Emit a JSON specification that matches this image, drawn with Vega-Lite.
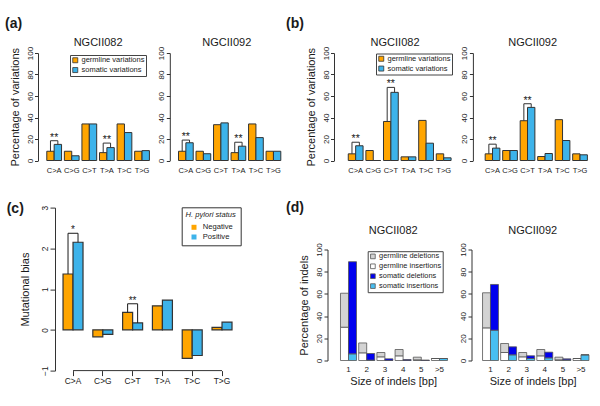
{
  "$schema": "https://vega.github.io/schema/vega-lite/v6.json",
  "padding": {"left": 5, "top": 17, "right": 0, "bottom": 0},
  "background": "white",
  "config": {
    "font": "Liberation Sans",
    "view": {"stroke": null},
    "axis": {"grid": false, "labelFont": "Liberation Sans", "titleFont": "Liberation Sans", "titleFontWeight": "normal", "labelColor": "#1a1a1a", "titleColor": "#1a1a1a", "domainColor": "#333333", "tickColor": "#333333", "labelFlush": false, "labelOverlap": false},
    "legend": {"labelFont": "Liberation Sans", "titleFont": "Liberation Sans", "labelColor": "#1a1a1a", "titleColor": "#1a1a1a"},
    "title": {"font": "Liberation Sans", "fontWeight": "normal", "fontSize": 11, "color": "#1a1a1a", "anchor": "middle", "frame": "group"}
  },
  "datasets": {
    "variations": [
      {"panel": "a", "sample": "NGCII082", "mut": "C>A", "origin": "germline variations", "pct": 8.6},
      {"panel": "a", "sample": "NGCII082", "mut": "C>A", "origin": "somatic variations", "pct": 15},
      {"panel": "a", "sample": "NGCII082", "mut": "C>G", "origin": "germline variations", "pct": 8.6},
      {"panel": "a", "sample": "NGCII082", "mut": "C>G", "origin": "somatic variations", "pct": 4.4},
      {"panel": "a", "sample": "NGCII082", "mut": "C>T", "origin": "germline variations", "pct": 34},
      {"panel": "a", "sample": "NGCII082", "mut": "C>T", "origin": "somatic variations", "pct": 34},
      {"panel": "a", "sample": "NGCII082", "mut": "T>A", "origin": "germline variations", "pct": 7.3},
      {"panel": "a", "sample": "NGCII082", "mut": "T>A", "origin": "somatic variations", "pct": 12},
      {"panel": "a", "sample": "NGCII082", "mut": "T>C", "origin": "germline variations", "pct": 34},
      {"panel": "a", "sample": "NGCII082", "mut": "T>C", "origin": "somatic variations", "pct": 26},
      {"panel": "a", "sample": "NGCII082", "mut": "T>G", "origin": "germline variations", "pct": 8.6},
      {"panel": "a", "sample": "NGCII082", "mut": "T>G", "origin": "somatic variations", "pct": 9.2},
      {"panel": "a", "sample": "NGCII092", "mut": "C>A", "origin": "germline variations", "pct": 8.6},
      {"panel": "a", "sample": "NGCII092", "mut": "C>A", "origin": "somatic variations", "pct": 16.5},
      {"panel": "a", "sample": "NGCII092", "mut": "C>G", "origin": "germline variations", "pct": 8.6},
      {"panel": "a", "sample": "NGCII092", "mut": "C>G", "origin": "somatic variations", "pct": 6.3},
      {"panel": "a", "sample": "NGCII092", "mut": "C>T", "origin": "germline variations", "pct": 33.3},
      {"panel": "a", "sample": "NGCII092", "mut": "C>T", "origin": "somatic variations", "pct": 35},
      {"panel": "a", "sample": "NGCII092", "mut": "T>A", "origin": "germline variations", "pct": 7.3},
      {"panel": "a", "sample": "NGCII092", "mut": "T>A", "origin": "somatic variations", "pct": 13.3},
      {"panel": "a", "sample": "NGCII092", "mut": "T>C", "origin": "germline variations", "pct": 34},
      {"panel": "a", "sample": "NGCII092", "mut": "T>C", "origin": "somatic variations", "pct": 21.3},
      {"panel": "a", "sample": "NGCII092", "mut": "T>G", "origin": "germline variations", "pct": 8.6},
      {"panel": "a", "sample": "NGCII092", "mut": "T>G", "origin": "somatic variations", "pct": 8.6},
      {"panel": "b", "sample": "NGCII082", "mut": "C>A", "origin": "germline variations", "pct": 6.2},
      {"panel": "b", "sample": "NGCII082", "mut": "C>A", "origin": "somatic variations", "pct": 13.7},
      {"panel": "b", "sample": "NGCII082", "mut": "C>G", "origin": "germline variations", "pct": 9.3},
      {"panel": "b", "sample": "NGCII082", "mut": "C>G", "origin": "somatic variations", "pct": 0},
      {"panel": "b", "sample": "NGCII082", "mut": "C>T", "origin": "germline variations", "pct": 36.3},
      {"panel": "b", "sample": "NGCII082", "mut": "C>T", "origin": "somatic variations", "pct": 63.4},
      {"panel": "b", "sample": "NGCII082", "mut": "T>A", "origin": "germline variations", "pct": 3.4},
      {"panel": "b", "sample": "NGCII082", "mut": "T>A", "origin": "somatic variations", "pct": 3.4},
      {"panel": "b", "sample": "NGCII082", "mut": "T>C", "origin": "germline variations", "pct": 37.3},
      {"panel": "b", "sample": "NGCII082", "mut": "T>C", "origin": "somatic variations", "pct": 16.1},
      {"panel": "b", "sample": "NGCII082", "mut": "T>G", "origin": "germline variations", "pct": 6.2},
      {"panel": "b", "sample": "NGCII082", "mut": "T>G", "origin": "somatic variations", "pct": 2.5},
      {"panel": "b", "sample": "NGCII092", "mut": "C>A", "origin": "germline variations", "pct": 6.2},
      {"panel": "b", "sample": "NGCII092", "mut": "C>A", "origin": "somatic variations", "pct": 11.5},
      {"panel": "b", "sample": "NGCII092", "mut": "C>G", "origin": "germline variations", "pct": 9.3},
      {"panel": "b", "sample": "NGCII092", "mut": "C>G", "origin": "somatic variations", "pct": 9.3},
      {"panel": "b", "sample": "NGCII092", "mut": "C>T", "origin": "germline variations", "pct": 37},
      {"panel": "b", "sample": "NGCII092", "mut": "C>T", "origin": "somatic variations", "pct": 49.4},
      {"panel": "b", "sample": "NGCII092", "mut": "T>A", "origin": "germline variations", "pct": 3.7},
      {"panel": "b", "sample": "NGCII092", "mut": "T>A", "origin": "somatic variations", "pct": 6.5},
      {"panel": "b", "sample": "NGCII092", "mut": "T>C", "origin": "germline variations", "pct": 38},
      {"panel": "b", "sample": "NGCII092", "mut": "T>C", "origin": "somatic variations", "pct": 18.6},
      {"panel": "b", "sample": "NGCII092", "mut": "T>G", "origin": "germline variations", "pct": 6.2},
      {"panel": "b", "sample": "NGCII092", "mut": "T>G", "origin": "somatic variations", "pct": 5.3}
    ],
    "brackets": [
      {"panel": "a", "sample": "NGCII082", "mut": "C>A", "origin": "germline variations", "k": 1, "pct": 8.6},
      {"panel": "a", "sample": "NGCII082", "mut": "C>A", "origin": "germline variations", "k": 2, "pct": 18.4},
      {"panel": "a", "sample": "NGCII082", "mut": "C>A", "origin": "somatic variations", "k": 3, "pct": 18.4},
      {"panel": "a", "sample": "NGCII082", "mut": "C>A", "origin": "somatic variations", "k": 4, "pct": 15},
      {"panel": "a", "sample": "NGCII082", "mut": "T>A", "origin": "germline variations", "k": 1, "pct": 7.3},
      {"panel": "a", "sample": "NGCII082", "mut": "T>A", "origin": "germline variations", "k": 2, "pct": 16.2},
      {"panel": "a", "sample": "NGCII082", "mut": "T>A", "origin": "somatic variations", "k": 3, "pct": 16.2},
      {"panel": "a", "sample": "NGCII082", "mut": "T>A", "origin": "somatic variations", "k": 4, "pct": 12},
      {"panel": "a", "sample": "NGCII092", "mut": "C>A", "origin": "germline variations", "k": 1, "pct": 8.6},
      {"panel": "a", "sample": "NGCII092", "mut": "C>A", "origin": "germline variations", "k": 2, "pct": 19},
      {"panel": "a", "sample": "NGCII092", "mut": "C>A", "origin": "somatic variations", "k": 3, "pct": 19},
      {"panel": "a", "sample": "NGCII092", "mut": "C>A", "origin": "somatic variations", "k": 4, "pct": 16.5},
      {"panel": "a", "sample": "NGCII092", "mut": "T>A", "origin": "germline variations", "k": 1, "pct": 7.3},
      {"panel": "a", "sample": "NGCII092", "mut": "T>A", "origin": "germline variations", "k": 2, "pct": 17},
      {"panel": "a", "sample": "NGCII092", "mut": "T>A", "origin": "somatic variations", "k": 3, "pct": 17},
      {"panel": "a", "sample": "NGCII092", "mut": "T>A", "origin": "somatic variations", "k": 4, "pct": 13.3},
      {"panel": "b", "sample": "NGCII082", "mut": "C>A", "origin": "germline variations", "k": 1, "pct": 6.2},
      {"panel": "b", "sample": "NGCII082", "mut": "C>A", "origin": "germline variations", "k": 2, "pct": 17},
      {"panel": "b", "sample": "NGCII082", "mut": "C>A", "origin": "somatic variations", "k": 3, "pct": 17},
      {"panel": "b", "sample": "NGCII082", "mut": "C>A", "origin": "somatic variations", "k": 4, "pct": 13.7},
      {"panel": "b", "sample": "NGCII082", "mut": "C>T", "origin": "germline variations", "k": 1, "pct": 36.3},
      {"panel": "b", "sample": "NGCII082", "mut": "C>T", "origin": "germline variations", "k": 2, "pct": 68},
      {"panel": "b", "sample": "NGCII082", "mut": "C>T", "origin": "somatic variations", "k": 3, "pct": 68},
      {"panel": "b", "sample": "NGCII082", "mut": "C>T", "origin": "somatic variations", "k": 4, "pct": 63.4},
      {"panel": "b", "sample": "NGCII092", "mut": "C>A", "origin": "germline variations", "k": 1, "pct": 6.2},
      {"panel": "b", "sample": "NGCII092", "mut": "C>A", "origin": "germline variations", "k": 2, "pct": 15.2},
      {"panel": "b", "sample": "NGCII092", "mut": "C>A", "origin": "somatic variations", "k": 3, "pct": 15.2},
      {"panel": "b", "sample": "NGCII092", "mut": "C>A", "origin": "somatic variations", "k": 4, "pct": 11.5},
      {"panel": "b", "sample": "NGCII092", "mut": "C>T", "origin": "germline variations", "k": 1, "pct": 37},
      {"panel": "b", "sample": "NGCII092", "mut": "C>T", "origin": "germline variations", "k": 2, "pct": 52.8},
      {"panel": "b", "sample": "NGCII092", "mut": "C>T", "origin": "somatic variations", "k": 3, "pct": 52.8},
      {"panel": "b", "sample": "NGCII092", "mut": "C>T", "origin": "somatic variations", "k": 4, "pct": 49.4}
    ],
    "sig": [
      {"panel": "a", "sample": "NGCII082", "mut": "C>A", "pct": 18.4, "label": "**"},
      {"panel": "a", "sample": "NGCII082", "mut": "T>A", "pct": 16.2, "label": "**"},
      {"panel": "a", "sample": "NGCII092", "mut": "C>A", "pct": 19, "label": "**"},
      {"panel": "a", "sample": "NGCII092", "mut": "T>A", "pct": 17, "label": "**"},
      {"panel": "b", "sample": "NGCII082", "mut": "C>A", "pct": 17, "label": "**"},
      {"panel": "b", "sample": "NGCII082", "mut": "C>T", "pct": 68, "label": "**"},
      {"panel": "b", "sample": "NGCII092", "mut": "C>A", "pct": 15.2, "label": "**"},
      {"panel": "b", "sample": "NGCII092", "mut": "C>T", "pct": 52.8, "label": "**"}
    ],
    "bias": [
      {"mut": "C>A", "status": "Negative", "bias": 1.37},
      {"mut": "C>A", "status": "Positive", "bias": 2.15},
      {"mut": "C>G", "status": "Negative", "bias": -0.17},
      {"mut": "C>G", "status": "Positive", "bias": -0.11},
      {"mut": "C>T", "status": "Negative", "bias": 0.43},
      {"mut": "C>T", "status": "Positive", "bias": 0.17},
      {"mut": "T>A", "status": "Negative", "bias": 0.59},
      {"mut": "T>A", "status": "Positive", "bias": 0.73},
      {"mut": "T>C", "status": "Negative", "bias": -0.7},
      {"mut": "T>C", "status": "Positive", "bias": -0.63},
      {"mut": "T>G", "status": "Negative", "bias": 0.06},
      {"mut": "T>G", "status": "Positive", "bias": 0.19}
    ],
    "biasBrackets": [
      {"mut": "C>A", "status": "Negative", "k": 1, "bias": 1.37},
      {"mut": "C>A", "status": "Negative", "k": 2, "bias": 2.37},
      {"mut": "C>A", "status": "Positive", "k": 3, "bias": 2.37},
      {"mut": "C>A", "status": "Positive", "k": 4, "bias": 2.15},
      {"mut": "C>T", "status": "Negative", "k": 1, "bias": 0.43},
      {"mut": "C>T", "status": "Negative", "k": 2, "bias": 0.64},
      {"mut": "C>T", "status": "Positive", "k": 3, "bias": 0.64},
      {"mut": "C>T", "status": "Positive", "k": 4, "bias": 0.17}
    ],
    "biasSig": [
      {"mut": "C>A", "bias": 2.37, "label": "*"},
      {"mut": "C>T", "bias": 0.64, "label": "**"}
    ],
    "indels": [
      {"sample": "NGCII082", "size": "1", "origin": "germline", "kind": "insertions", "type": "germline insertions", "pct": 30},
      {"sample": "NGCII082", "size": "1", "origin": "germline", "kind": "deletions", "type": "germline deletions", "pct": 30.6},
      {"sample": "NGCII082", "size": "1", "origin": "somatic", "kind": "insertions", "type": "somatic insertions", "pct": 6},
      {"sample": "NGCII082", "size": "1", "origin": "somatic", "kind": "deletions", "type": "somatic deletions", "pct": 83},
      {"sample": "NGCII082", "size": "2", "origin": "germline", "kind": "insertions", "type": "germline insertions", "pct": 6.9},
      {"sample": "NGCII082", "size": "2", "origin": "germline", "kind": "deletions", "type": "germline deletions", "pct": 8.9},
      {"sample": "NGCII082", "size": "2", "origin": "somatic", "kind": "insertions", "type": "somatic insertions", "pct": 0.4},
      {"sample": "NGCII082", "size": "2", "origin": "somatic", "kind": "deletions", "type": "somatic deletions", "pct": 5.9},
      {"sample": "NGCII082", "size": "3", "origin": "germline", "kind": "insertions", "type": "germline insertions", "pct": 3.3},
      {"sample": "NGCII082", "size": "3", "origin": "germline", "kind": "deletions", "type": "germline deletions", "pct": 3.9},
      {"sample": "NGCII082", "size": "3", "origin": "somatic", "kind": "insertions", "type": "somatic insertions", "pct": 0},
      {"sample": "NGCII082", "size": "3", "origin": "somatic", "kind": "deletions", "type": "somatic deletions", "pct": 1.5},
      {"sample": "NGCII082", "size": "4", "origin": "germline", "kind": "insertions", "type": "germline insertions", "pct": 4.2},
      {"sample": "NGCII082", "size": "4", "origin": "germline", "kind": "deletions", "type": "germline deletions", "pct": 5.7},
      {"sample": "NGCII082", "size": "4", "origin": "somatic", "kind": "insertions", "type": "somatic insertions", "pct": 0},
      {"sample": "NGCII082", "size": "4", "origin": "somatic", "kind": "deletions", "type": "somatic deletions", "pct": 0.9},
      {"sample": "NGCII082", "size": "5", "origin": "germline", "kind": "insertions", "type": "germline insertions", "pct": 0.6},
      {"sample": "NGCII082", "size": "5", "origin": "germline", "kind": "deletions", "type": "germline deletions", "pct": 2.4},
      {"sample": "NGCII082", "size": "5", "origin": "somatic", "kind": "insertions", "type": "somatic insertions", "pct": 0},
      {"sample": "NGCII082", "size": "5", "origin": "somatic", "kind": "deletions", "type": "somatic deletions", "pct": 0.4},
      {"sample": "NGCII082", "size": ">5", "origin": "germline", "kind": "insertions", "type": "germline insertions", "pct": 1.8},
      {"sample": "NGCII082", "size": ">5", "origin": "germline", "kind": "deletions", "type": "germline deletions", "pct": 0},
      {"sample": "NGCII082", "size": ">5", "origin": "somatic", "kind": "insertions", "type": "somatic insertions", "pct": 1.8},
      {"sample": "NGCII082", "size": ">5", "origin": "somatic", "kind": "deletions", "type": "somatic deletions", "pct": 0},
      {"sample": "NGCII092", "size": "1", "origin": "germline", "kind": "insertions", "type": "germline insertions", "pct": 29.4},
      {"sample": "NGCII092", "size": "1", "origin": "germline", "kind": "deletions", "type": "germline deletions", "pct": 31.6},
      {"sample": "NGCII092", "size": "1", "origin": "somatic", "kind": "insertions", "type": "somatic insertions", "pct": 27.3},
      {"sample": "NGCII092", "size": "1", "origin": "somatic", "kind": "deletions", "type": "somatic deletions", "pct": 41.2},
      {"sample": "NGCII092", "size": "2", "origin": "germline", "kind": "insertions", "type": "germline insertions", "pct": 7.2},
      {"sample": "NGCII092", "size": "2", "origin": "germline", "kind": "deletions", "type": "germline deletions", "pct": 8.1},
      {"sample": "NGCII092", "size": "2", "origin": "somatic", "kind": "insertions", "type": "somatic insertions", "pct": 5.1},
      {"sample": "NGCII092", "size": "2", "origin": "somatic", "kind": "deletions", "type": "somatic deletions", "pct": 7.2},
      {"sample": "NGCII092", "size": "3", "origin": "germline", "kind": "insertions", "type": "germline insertions", "pct": 3.3},
      {"sample": "NGCII092", "size": "3", "origin": "germline", "kind": "deletions", "type": "germline deletions", "pct": 3.9},
      {"sample": "NGCII092", "size": "3", "origin": "somatic", "kind": "insertions", "type": "somatic insertions", "pct": 1.8},
      {"sample": "NGCII092", "size": "3", "origin": "somatic", "kind": "deletions", "type": "somatic deletions", "pct": 2.4},
      {"sample": "NGCII092", "size": "4", "origin": "germline", "kind": "insertions", "type": "germline insertions", "pct": 4.2},
      {"sample": "NGCII092", "size": "4", "origin": "germline", "kind": "deletions", "type": "germline deletions", "pct": 5.7},
      {"sample": "NGCII092", "size": "4", "origin": "somatic", "kind": "insertions", "type": "somatic insertions", "pct": 2.4},
      {"sample": "NGCII092", "size": "4", "origin": "somatic", "kind": "deletions", "type": "somatic deletions", "pct": 5.1},
      {"sample": "NGCII092", "size": "5", "origin": "germline", "kind": "insertions", "type": "germline insertions", "pct": 0.6},
      {"sample": "NGCII092", "size": "5", "origin": "germline", "kind": "deletions", "type": "germline deletions", "pct": 2.4},
      {"sample": "NGCII092", "size": "5", "origin": "somatic", "kind": "insertions", "type": "somatic insertions", "pct": 0.6},
      {"sample": "NGCII092", "size": "5", "origin": "somatic", "kind": "deletions", "type": "somatic deletions", "pct": 0.9},
      {"sample": "NGCII092", "size": ">5", "origin": "germline", "kind": "insertions", "type": "germline insertions", "pct": 1.8},
      {"sample": "NGCII092", "size": ">5", "origin": "germline", "kind": "deletions", "type": "germline deletions", "pct": 0},
      {"sample": "NGCII092", "size": ">5", "origin": "somatic", "kind": "insertions", "type": "somatic insertions", "pct": 5.1},
      {"sample": "NGCII092", "size": ">5", "origin": "somatic", "kind": "deletions", "type": "somatic deletions", "pct": 0}
    ]
  },
  "spacing": 2,
  "resolve": {"scale": {"x": "independent", "y": "independent", "color": "independent", "xOffset": "independent"}, "axis": {"x": "independent", "y": "independent"}, "legend": {"color": "independent"}},
  "hconcat": [
    {
      "spacing": 27.6,
      "resolve": {"scale": {"x": "independent", "y": "independent", "color": "independent", "xOffset": "independent"}, "axis": {"x": "independent", "y": "independent"}, "legend": {"color": "independent"}},
      "vconcat": [
        {
          "title": {"text": "(a)", "anchor": "start", "frame": "group", "dx": -33, "fontSize": 14, "fontWeight": "bold", "offset": 6},
          "bounds": "flush",
          "spacing": 10.8,
          "resolve": {"scale": {"x": "independent", "y": "independent", "color": "independent", "xOffset": "independent"}, "axis": {"x": "independent", "y": "independent"}, "legend": {"color": "independent"}},
          "hconcat": [
            {
              "width": 120.2, "height": 107.5,
              "title": {"text": "NGCII082", "offset": -2},
              "encoding": {
                "x": {"field": "mut", "type": "nominal", "title": null, "scale": {"paddingInner": 0.16, "paddingOuter": 0.5, "align": 0.5}, "axis": {"domain": false, "ticks": false, "tickSize": 0, "labelAngle": 0, "labelFontSize": 7.5, "labelPadding": 6, "labelOverlap": false}},
                "y": {"field": "pct", "type": "quantitative", "scale": {"domain": [0, 100], "nice": false}, "axis": {"values": [0, 20, 40, 60, 80, 100], "labelOverlap": false, "labelFlush": false, "title": "Percentage of variations", "titleFontSize": 11, "titlePadding": 6, "labelAngle": -90, "labelAlign": "center", "labelBaseline": "bottom", "labelFontSize": 8, "labelPadding": 0.5, "tickSize": 3.5}}
              },
              "layer": [
                {
                  "data": {"name": "variations"},
                  "transform": [{"filter": "datum.panel == 'a' && datum.sample == 'NGCII082'"}],
                  "mark": {"type": "bar", "stroke": "#333333", "strokeWidth": 1},
                  "encoding": {
                    "xOffset": {"field": "origin", "type": "nominal", "scale": {"paddingInner": 0, "paddingOuter": 0}},
                    "color": {"field": "origin", "type": "nominal", "scale": {"domain": ["germline variations", "somatic variations"], "range": ["#FFA500", "#3DB3EA"]}, "legend": {"orient": "none", "legendX": 32, "legendY": 2, "title": null, "symbolType": "square", "symbolSize": 25, "symbolStrokeColor": "#333333", "symbolStrokeWidth": 0.8, "labelFontSize": 7.5, "labelOffset": 2.5, "labelLimit": 200, "padding": 1.5, "rowPadding": 0.8, "strokeColor": "#444444", "fillColor": "white"}}
                  }
                },
                {
                  "data": {"name": "brackets"},
                  "transform": [{"filter": "datum.panel == 'a' && datum.sample == 'NGCII082'"}],
                  "mark": {"type": "line", "color": "#333333", "strokeWidth": 1},
                  "encoding": {
                    "xOffset": {"field": "origin", "type": "nominal"},
                    "detail": {"field": "mut", "type": "nominal"},
                    "order": {"field": "k", "type": "quantitative"}
                  }
                },
                {
                  "data": {"name": "sig"},
                  "transform": [{"filter": "datum.panel == 'a' && datum.sample == 'NGCII082'"}],
                  "mark": {"type": "text", "fontSize": 10.5, "baseline": "alphabetic", "color": "#1a1a1a"},
                  "encoding": {
                    "text": {"field": "label", "type": "nominal"}
                  }
                }
              ]
            },
            {
              "width": 114, "height": 107.5,
              "title": {"text": "NGCII092", "offset": -2},
              "encoding": {
                "x": {"field": "mut", "type": "nominal", "title": null, "scale": {"paddingInner": 0.16, "paddingOuter": 0.334, "align": 0.744}, "axis": {"domain": false, "ticks": false, "tickSize": 0, "labelAngle": 0, "labelFontSize": 7.5, "labelPadding": 6, "labelOverlap": false}},
                "y": {"field": "pct", "type": "quantitative", "scale": {"domain": [0, 100], "nice": false}, "axis": {"values": [0, 20, 40, 60, 80, 100], "labelOverlap": false, "labelFlush": false, "title": null, "labelAngle": -90, "labelAlign": "center", "labelBaseline": "bottom", "labelFontSize": 8, "labelPadding": 0.5, "tickSize": 3.5}}
              },
              "layer": [
                {
                  "data": {"name": "variations"},
                  "transform": [{"filter": "datum.panel == 'a' && datum.sample == 'NGCII092'"}],
                  "mark": {"type": "bar", "stroke": "#333333", "strokeWidth": 1},
                  "encoding": {
                    "xOffset": {"field": "origin", "type": "nominal", "scale": {"paddingInner": 0, "paddingOuter": 0}},
                    "color": {"field": "origin", "type": "nominal", "scale": {"domain": ["germline variations", "somatic variations"], "range": ["#FFA500", "#3DB3EA"]}, "legend": null}
                  }
                },
                {
                  "data": {"name": "brackets"},
                  "transform": [{"filter": "datum.panel == 'a' && datum.sample == 'NGCII092'"}],
                  "mark": {"type": "line", "color": "#333333", "strokeWidth": 1},
                  "encoding": {
                    "xOffset": {"field": "origin", "type": "nominal"},
                    "detail": {"field": "mut", "type": "nominal"},
                    "order": {"field": "k", "type": "quantitative"}
                  }
                },
                {
                  "data": {"name": "sig"},
                  "transform": [{"filter": "datum.panel == 'a' && datum.sample == 'NGCII092'"}],
                  "mark": {"type": "text", "fontSize": 10.5, "baseline": "alphabetic", "color": "#1a1a1a"},
                  "encoding": {
                    "text": {"field": "label", "type": "nominal"}
                  }
                }
              ]
            }
          ]
        },
        {
          "width": 202, "height": 163,
          "title": {"text": "(c)", "anchor": "start", "frame": "group", "dx": -31.3, "dy": 11, "fontSize": 14, "fontWeight": "bold", "offset": 0},
          "encoding": {
            "x": {"field": "mut", "type": "nominal", "title": null, "scale": {"paddingInner": 0.329, "paddingOuter": 0.554, "align": 0.758}, "axis": {"domain": false, "ticks": true, "tickSize": 5, "labelAngle": 0, "labelFontSize": 8.4, "labelPadding": 1, "labelOverlap": false}},
            "y": {"field": "bias", "type": "quantitative", "scale": {"domain": [-1, 3], "nice": false}, "axis": {"values": [-1, 0, 1, 2, 3], "labelOverlap": false, "labelFlush": false, "offset": -17, "title": "Mutational bias", "titleFontSize": 11, "titlePadding": 10, "labelAngle": -90, "labelAlign": "center", "labelBaseline": "bottom", "labelFontSize": 8.4, "labelPadding": 0.5, "tickSize": 5}}
          },
          "layer": [
            {
              "data": {"name": "bias"},
              "mark": {"type": "bar", "stroke": "#333333", "strokeWidth": 1.2},
              "encoding": {
                "xOffset": {"field": "status", "type": "nominal", "scale": {"paddingInner": 0, "paddingOuter": 0}},
                "color": {"field": "status", "type": "nominal", "scale": {"domain": ["Negative", "Positive"], "range": ["#FFA500", "#3DB3EA"]}, "legend": {"orient": "none", "legendX": 143.7, "legendY": -0.3, "title": "H. pylori status", "titleFontStyle": "italic", "titleFontWeight": "normal", "titleFontSize": 7.6, "titleAnchor": "middle", "titlePadding": 4.6, "symbolType": "square", "symbolSize": 25, "symbolStrokeWidth": 0, "symbolOffset": 2.5, "labelFontSize": 7.6, "labelOffset": 5, "padding": 4, "rowPadding": 0.7, "strokeColor": "#333333", "fillColor": "white"}}
              }
            },
            {
              "data": {"name": "biasBrackets"},
              "mark": {"type": "line", "color": "#1a1a1a", "strokeWidth": 1},
              "encoding": {
                "xOffset": {"field": "status", "type": "nominal"},
                "detail": {"field": "mut", "type": "nominal"},
                "order": {"field": "k", "type": "quantitative"}
              }
            },
            {
              "data": {"name": "biasSig"},
              "mark": {"type": "text", "fontSize": 10, "baseline": "alphabetic", "color": "#1a1a1a"},
              "encoding": {
                "text": {"field": "label", "type": "nominal"}
              }
            },
            {
              "data": {"name": "bias"},
              "transform": [{"filter": "datum.mut == 'C>A' && datum.status == 'Negative'"}],
              "mark": {"type": "rule", "color": "#333333", "strokeWidth": 1},
              "encoding": {
                "x": {"datum": "C>A", "axis": {"domain": false, "ticks": true, "tickSize": 5, "labelAngle": 0, "labelFontSize": 8.4, "labelPadding": 1, "labelOverlap": false}},
                "x2": {"datum": "T>G"},
                "y": {"datum": -1, "axis": {"values": [-1, 0, 1, 2, 3], "labelOverlap": false, "labelFlush": false, "offset": -17, "title": "Mutational bias", "titleFontSize": 11, "titlePadding": 10, "labelAngle": -90, "labelAlign": "center", "labelBaseline": "bottom", "labelFontSize": 8.4, "labelPadding": 0.5, "tickSize": 5}}
              }
            }
          ]
        }
      ]
    },
    {
      "spacing": 26.5,
      "resolve": {"scale": {"x": "independent", "y": "independent", "color": "independent", "xOffset": "independent"}, "axis": {"x": "independent", "y": "independent"}, "legend": {"color": "independent"}},
      "vconcat": [
        {
          "title": {"text": "(b)", "anchor": "start", "frame": "group", "dx": -48, "fontSize": 14, "fontWeight": "bold", "offset": 6},
          "bounds": "flush",
          "spacing": 15.9,
          "resolve": {"scale": {"x": "independent", "y": "independent", "color": "independent", "xOffset": "independent"}, "axis": {"x": "independent", "y": "independent"}, "legend": {"color": "independent"}},
          "hconcat": [
            {
              "width": 122.1, "height": 107.5,
              "title": {"text": "NGCII082", "offset": -2},
              "encoding": {
                "x": {"field": "mut", "type": "nominal", "title": null, "scale": {"paddingInner": 0.16, "paddingOuter": 0.548, "align": 0.74}, "axis": {"domain": false, "ticks": false, "tickSize": 0, "labelAngle": 0, "labelFontSize": 7.5, "labelPadding": 6, "labelOverlap": false}},
                "y": {"field": "pct", "type": "quantitative", "scale": {"domain": [0, 100], "nice": false}, "axis": {"values": [0, 20, 40, 60, 80, 100], "labelOverlap": false, "labelFlush": false, "title": "Percentage of variations", "titleFontSize": 11, "titlePadding": 6, "labelAngle": -90, "labelAlign": "center", "labelBaseline": "bottom", "labelFontSize": 8, "labelPadding": 0.5, "tickSize": 3.5}}
              },
              "layer": [
                {
                  "data": {"name": "variations"},
                  "transform": [{"filter": "datum.panel == 'b' && datum.sample == 'NGCII082'"}],
                  "mark": {"type": "bar", "stroke": "#333333", "strokeWidth": 1},
                  "encoding": {
                    "xOffset": {"field": "origin", "type": "nominal", "scale": {"paddingInner": 0, "paddingOuter": 0}},
                    "color": {"field": "origin", "type": "nominal", "scale": {"domain": ["germline variations", "somatic variations"], "range": ["#FFA500", "#3DB3EA"]}, "legend": {"orient": "none", "legendX": 42, "legendY": 0.5, "title": null, "symbolType": "square", "symbolSize": 25, "symbolStrokeColor": "#333333", "symbolStrokeWidth": 0.8, "labelFontSize": 7.5, "labelOffset": 2.5, "labelLimit": 200, "padding": 1.5, "rowPadding": 0.8, "strokeColor": "#444444", "fillColor": "white"}}
                  }
                },
                {
                  "data": {"name": "brackets"},
                  "transform": [{"filter": "datum.panel == 'b' && datum.sample == 'NGCII082'"}],
                  "mark": {"type": "line", "color": "#333333", "strokeWidth": 1},
                  "encoding": {
                    "xOffset": {"field": "origin", "type": "nominal"},
                    "detail": {"field": "mut", "type": "nominal"},
                    "order": {"field": "k", "type": "quantitative"}
                  }
                },
                {
                  "data": {"name": "sig"},
                  "transform": [{"filter": "datum.panel == 'b' && datum.sample == 'NGCII082'"}],
                  "mark": {"type": "text", "fontSize": 10.5, "baseline": "alphabetic", "color": "#1a1a1a"},
                  "encoding": {
                    "text": {"field": "label", "type": "nominal"}
                  }
                }
              ]
            },
            {
              "width": 119.5, "height": 107.5,
              "title": {"text": "NGCII092", "offset": -2},
              "encoding": {
                "x": {"field": "mut", "type": "nominal", "title": null, "scale": {"paddingInner": 0.16, "paddingOuter": 0.494, "align": 0.71}, "axis": {"domain": false, "ticks": false, "tickSize": 0, "labelAngle": 0, "labelFontSize": 7.5, "labelPadding": 6, "labelOverlap": false}},
                "y": {"field": "pct", "type": "quantitative", "scale": {"domain": [0, 100], "nice": false}, "axis": {"values": [0, 20, 40, 60, 80, 100], "labelOverlap": false, "labelFlush": false, "title": null, "labelAngle": -90, "labelAlign": "center", "labelBaseline": "bottom", "labelFontSize": 8, "labelPadding": 0.5, "tickSize": 3.5}}
              },
              "layer": [
                {
                  "data": {"name": "variations"},
                  "transform": [{"filter": "datum.panel == 'b' && datum.sample == 'NGCII092'"}],
                  "mark": {"type": "bar", "stroke": "#333333", "strokeWidth": 1},
                  "encoding": {
                    "xOffset": {"field": "origin", "type": "nominal", "scale": {"paddingInner": 0, "paddingOuter": 0}},
                    "color": {"field": "origin", "type": "nominal", "scale": {"domain": ["germline variations", "somatic variations"], "range": ["#FFA500", "#3DB3EA"]}, "legend": null}
                  }
                },
                {
                  "data": {"name": "brackets"},
                  "transform": [{"filter": "datum.panel == 'b' && datum.sample == 'NGCII092'"}],
                  "mark": {"type": "line", "color": "#333333", "strokeWidth": 1},
                  "encoding": {
                    "xOffset": {"field": "origin", "type": "nominal"},
                    "detail": {"field": "mut", "type": "nominal"},
                    "order": {"field": "k", "type": "quantitative"}
                  }
                },
                {
                  "data": {"name": "sig"},
                  "transform": [{"filter": "datum.panel == 'b' && datum.sample == 'NGCII092'"}],
                  "mark": {"type": "text", "fontSize": 10.5, "baseline": "alphabetic", "color": "#1a1a1a"},
                  "encoding": {
                    "text": {"field": "label", "type": "nominal"}
                  }
                }
              ]
            }
          ]
        },
        {
          "title": {"text": "(d)", "anchor": "start", "frame": "group", "dx": -48, "fontSize": 14, "fontWeight": "bold", "offset": 9.5},
          "bounds": "flush",
          "spacing": 18.5,
          "resolve": {"scale": {"x": "independent", "y": "independent", "color": "independent", "xOffset": "independent"}, "axis": {"x": "independent", "y": "independent"}, "legend": {"color": "independent"}},
          "hconcat": [
            {
              "width": 118.5, "height": 111,
              "title": {"text": "NGCII082", "offset": 7},
              "data": {"name": "indels"},
              "transform": [{"filter": "datum.sample == 'NGCII082'"}],
              "mark": {"type": "bar", "stroke": "#555555", "strokeWidth": 0.8},
              "encoding": {
                "x": {"field": "size", "type": "nominal", "sort": ["1", "2", "3", "4", "5", ">5"], "scale": {"paddingInner": 0.12, "paddingOuter": 0.316, "align": 0.565}, "axis": {"domain": false, "ticks": false, "tickSize": 0, "labelAngle": 0, "labelFontSize": 8, "labelPadding": 5, "labelOverlap": false, "title": "Size of indels [bp]", "titleFontSize": 11, "titlePadding": 2}},
                "xOffset": {"field": "origin", "type": "nominal", "sort": ["germline", "somatic"], "scale": {"paddingInner": 0, "paddingOuter": 0}},
                "y": {"field": "pct", "type": "quantitative", "stack": "zero", "scale": {"domain": [0, 100], "nice": false}, "axis": {"values": [0, 20, 40, 60, 80, 100], "labelOverlap": false, "labelFlush": false, "offset": 6.5, "title": "Percentage of indels", "titleFontSize": 11, "titlePadding": 6, "labelAngle": -90, "labelAlign": "center", "labelBaseline": "bottom", "labelFontSize": 8, "labelPadding": 0.5, "tickSize": 3.5}},
                "color": {"field": "type", "type": "nominal", "scale": {"domain": ["germline deletions", "germline insertions", "somatic deletions", "somatic insertions"], "range": ["#D3D3D3", "#FFFFFF", "#0000EE", "#48BFF2"]}, "legend": {"orient": "none", "legendX": 33.7, "legendY": 1.7, "title": null, "symbolType": "square", "symbolSize": 22, "symbolStrokeColor": "#555555", "symbolStrokeWidth": 0.8, "labelFontSize": 7.4, "labelOffset": 2.5, "labelLimit": 200, "padding": 1.5, "rowPadding": 0.9, "strokeColor": "#444444", "fillColor": "white"}},
                "order": {"field": "kind", "sort": "descending"}
              }
            },
            {
              "width": 122.4, "height": 111,
              "title": {"text": "NGCII092", "offset": 7},
              "data": {"name": "indels"},
              "transform": [{"filter": "datum.sample == 'NGCII092'"}],
              "mark": {"type": "bar", "stroke": "#555555", "strokeWidth": 0.8},
              "encoding": {
                "x": {"field": "size", "type": "nominal", "sort": ["1", "2", "3", "4", "5", ">5"], "scale": {"paddingInner": 0.12, "paddingOuter": 0.442, "align": 0.69}, "axis": {"domain": false, "ticks": false, "tickSize": 0, "labelAngle": 0, "labelFontSize": 8, "labelPadding": 5, "labelOverlap": false, "title": "Size of indels [bp]", "titleFontSize": 11, "titlePadding": 2}},
                "xOffset": {"field": "origin", "type": "nominal", "sort": ["germline", "somatic"], "scale": {"paddingInner": 0, "paddingOuter": 0}},
                "y": {"field": "pct", "type": "quantitative", "stack": "zero", "scale": {"domain": [0, 100], "nice": false}, "axis": {"values": [0, 20, 40, 60, 80, 100], "labelOverlap": false, "labelFlush": false, "title": null, "labelAngle": -90, "labelAlign": "center", "labelBaseline": "bottom", "labelFontSize": 8, "labelPadding": 0.5, "tickSize": 3.5}},
                "color": {"field": "type", "type": "nominal", "scale": {"domain": ["germline deletions", "germline insertions", "somatic deletions", "somatic insertions"], "range": ["#D3D3D3", "#FFFFFF", "#0000EE", "#48BFF2"]}, "legend": null},
                "order": {"field": "kind", "sort": "descending"}
              }
            }
          ]
        }
      ]
    }
  ]
}
